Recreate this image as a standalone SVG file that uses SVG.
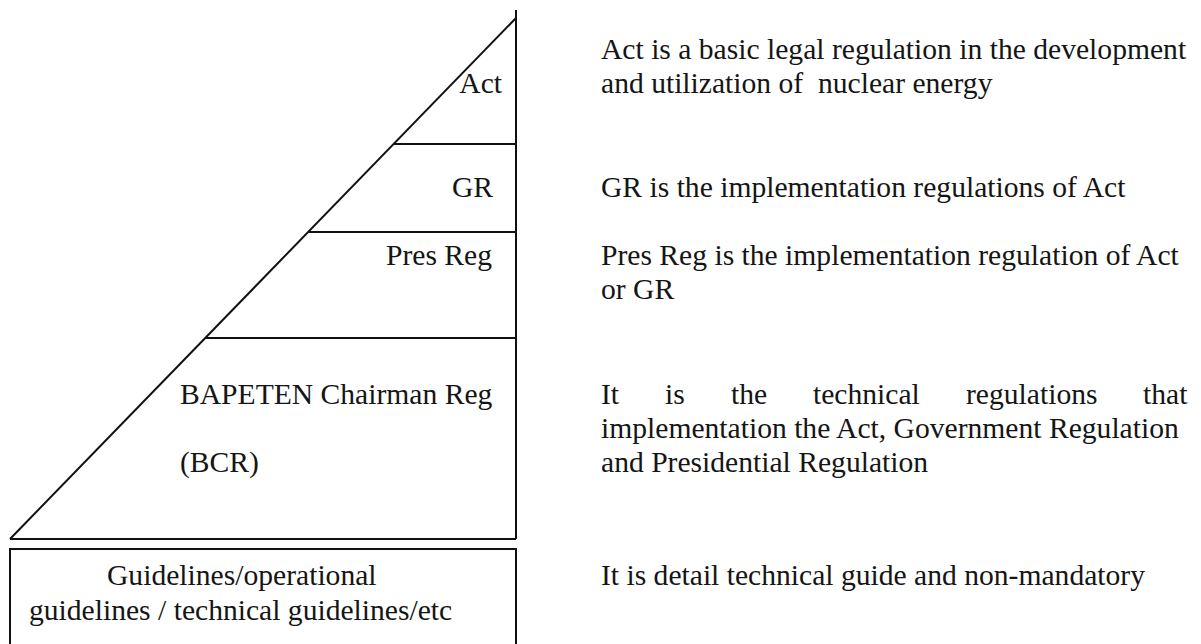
<svg xmlns="http://www.w3.org/2000/svg" width="1201" height="644" viewBox="0 0 1201 644">
  <style>
    .ln { stroke: #111; stroke-width: 2; fill: none; }
    .t { font-family: 'Liberation Serif', 'Times New Roman', serif; font-size: 29.6px; fill: #151515; }
    .end { text-anchor: end; }
  </style>
  <rect width="1201" height="644" fill="#fff"/>

  <!-- pyramid outline and tier dividers -->
  <g id="connectors">
    <line class="ln" x1="516" y1="10" x2="516" y2="539"/>
    <line class="ln" x1="516" y1="18" x2="10" y2="539"/>
    <line class="ln" x1="394" y1="144" x2="516" y2="144"/>
    <line class="ln" x1="308" y1="232" x2="516" y2="232"/>
    <line class="ln" x1="205" y1="338" x2="516" y2="338"/>
    <line class="ln" x1="10" y1="539" x2="516" y2="539"/>
  </g>

  <g id="act">
    <text class="t end" x="502" y="93">Act</text>
    <text class="t" x="601" y="59">Act is a basic legal regulation in the development</text>
    <text class="t" x="601" y="93" xml:space="preserve">and utilization of  nuclear energy</text>
  </g>

  <g id="gr">
    <text class="t end" x="493" y="197">GR</text>
    <text class="t" x="601" y="197">GR is the implementation regulations of Act</text>
  </g>

  <g id="pres-reg">
    <text class="t end" x="492" y="265">Pres Reg</text>
    <text class="t" x="601" y="265">Pres Reg is the implementation regulation of Act</text>
    <text class="t" x="601" y="299">or GR</text>
  </g>

  <g id="bcr">
    <text class="t" x="180" y="404">BAPETEN Chairman Reg</text>
    <text class="t" x="180" y="472">(BCR)</text>
    <!-- justified first line -->
    <text class="t" y="404"><tspan x="601">It</tspan><tspan x="665">is</tspan><tspan x="731">the</tspan><tspan x="813">technical</tspan><tspan x="966">regulations</tspan><tspan x="1143">that</tspan></text>
    <text class="t" x="601" y="438">implementation the Act, Government Regulation</text>
    <text class="t" x="601" y="472">and Presidential Regulation</text>
  </g>

  <g id="guidelines">
    <rect class="ln" x="10" y="549" width="506" height="110"/>
    <text class="t" x="107" y="585">Guidelines/operational</text>
    <text class="t" x="29" y="620">guidelines / technical guidelines/etc</text>
    <text class="t" x="601" y="585">It is detail technical guide and non-mandatory</text>
  </g>
</svg>
